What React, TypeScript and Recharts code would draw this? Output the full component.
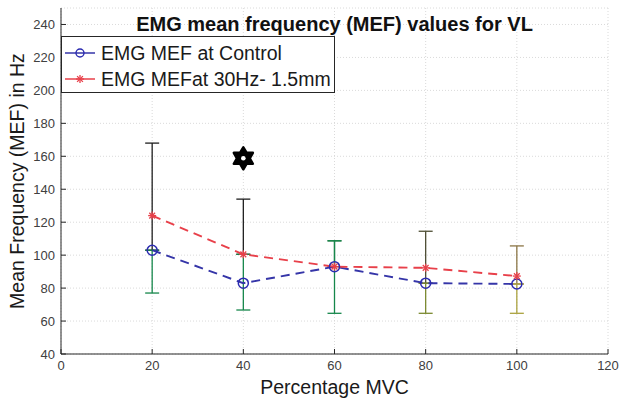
import { ComposedChart, Line, Scatter, ErrorBar, XAxis, YAxis, CartesianGrid, Legend } from 'recharts';

// values
const mvcLevels = [20, 40, 60, 80, 100];
const controlMef = [103, 83, 93, 83, 82.5];
const stimMef = [124, 100.5, 93, 92.3, 87.3];
const controlErrLow = [26, 16.3, 28.3, 18.3, 17.8];
const controlErrHigh = [0, 17.5, 15.7, 0, 0];
const stimErrLow = [21, 0, 0, 9.3, 4.8];
const stimErrHigh = [44, 33.5, 15.7, 22.2, 18.3];
const significance = [{ x: 40, y: 158.8 }];

const xTicks = [0, 20, 40, 60, 80, 100, 120];
const yTicks = [40, 60, 80, 100, 120, 140, 160, 180, 200, 220, 240];

const controlName = 'EMG MEF at Control';
const stimName = 'EMG MEFat 30Hz- 1.5mm';

const chartData = mvcLevels.map((x, i) => ({ x, control: controlMef[i], stim: stimMef[i] }));

const stimBarColors = ['#1f1f1f', '#1f1f1f', '#1d6e3c', '#4e4e34', '#8c7646'];
const controlBarColors = ['#16874b', '#16874b', '#16874b', '#7b8a30', '#aaa23e'];

const FONT = '"Liberation Sans", Arial, Helvetica, sans-serif';
const AXIS = '#262626';
const BLUE = '#2b2bb0';
const RED = '#e8404a';

const Asterisk = (props: any) => {
  const { cx, cy } = props;
  if (cx == null || cy == null) return <g />;
  const s = 4;
  const d = 2.9;
  return (
    <g stroke={RED} strokeWidth={1.3}>
      <line x1={cx - s} y1={cy} x2={cx + s} y2={cy} />
      <line x1={cx} y1={cy - s} x2={cx} y2={cy + s} />
      <line x1={cx - d} y1={cy - d} x2={cx + d} y2={cy + d} />
      <line x1={cx - d} y1={cy + d} x2={cx + d} y2={cy - d} />
    </g>
  );
};

const Hexagram = (props: any) => {
  const { cx, cy } = props;
  const R = 11;
  const r = 6.4;
  const pts = [];
  for (let k = 0; k < 12; k++) {
    const a = ((-90 + k * 30) * Math.PI) / 180;
    const rad = k % 2 === 0 ? R : r;
    pts.push(`${cx + rad * Math.cos(a)},${cy + rad * Math.sin(a)}`);
  }
  return (
    <g>
      <polygon points={pts.join(' ')} fill="#000" stroke="#000" strokeWidth={2.5} strokeLinejoin="round" />
      <circle cx={cx} cy={cy} r={2.3} fill="#fff" />
    </g>
  );
};

const NoShape = () => <g />;

const LegendBox = (props: any) => {
  const items = (props.payload || []).filter((p: any) => p.value === controlName || p.value === stimName);
  return (
    <div
      style={{
        position: 'relative',
        width: 272,
        height: 55,
        border: `1px solid ${AXIS}`,
        background: '#fff',
        fontFamily: FONT,
        fontSize: 19.5,
        color: '#1a1a1a',
      }}
    >
      {items.map((p: any, i: number) => (
        <div key={p.value} style={{ position: 'absolute', left: 3, top: 5 + i * 26, height: 22, display: 'flex', alignItems: 'center' }}>
          <svg width={30} height={12} style={{ marginRight: 6 }}>
            <line x1={0} y1={6} x2={30} y2={6} stroke={p.color} strokeWidth={1.5} />
            {p.value === controlName ? (
              <circle cx={15} cy={6} r={4} fill="none" stroke={BLUE} strokeWidth={1.4} />
            ) : (
              <Asterisk cx={15} cy={6} />
            )}
          </svg>
          <span style={{ whiteSpace: 'nowrap' }}>{p.value}</span>
        </div>
      ))}
    </div>
  );
};

const tickStyle = { fontSize: 13, fill: '#404040', fontFamily: FONT };

const App = () => {
  return (
    <div style={{ position: 'absolute', left: 0, top: 0, width: 625, height: 406, background: '#fff' }}>
      <ComposedChart width={625} height={406} data={chartData} margin={{ top: 8, right: 17, left: 0, bottom: 0 }}>
        <CartesianGrid stroke="#dadada" strokeDasharray="1 2" />
        <XAxis
          dataKey="x"
          type="number"
          domain={[0, 120]}
          ticks={xTicks}
          interval={0}
          height={52}
          stroke={AXIS}
          tickSize={-5}
          tickMargin={12}
          tick={tickStyle}
          label={{ value: 'Percentage MVC', position: 'insideBottom', offset: 12, style: { fontSize: 19.5, fill: '#1a1a1a', fontFamily: FONT } }}
        />
        <XAxis
          xAxisId="top"
          orientation="top"
          type="number"
          domain={[0, 120]}
          ticks={xTicks}
          interval={0}
          height={0}
          stroke={AXIS}
          tickSize={-5}
          tickFormatter={() => ''}
        />
        <YAxis
          type="number"
          domain={[40, 250]}
          ticks={yTicks}
          interval={0}
          width={61}
          stroke={AXIS}
          tickSize={-5}
          tickMargin={11}
          tick={tickStyle}
          label={{
            value: 'Mean Frequency (MEF) in Hz',
            angle: -90,
            position: 'insideLeft',
            dx: 12,
            style: { textAnchor: 'middle', fontSize: 19.5, fill: '#1a1a1a', fontFamily: FONT },
          }}
        />
        <YAxis
          yAxisId="right"
          orientation="right"
          type="number"
          domain={[40, 250]}
          ticks={yTicks}
          interval={0}
          width={0}
          stroke={AXIS}
          tickSize={-5}
          tickFormatter={() => ''}
        />
        {mvcLevels.map((x, i) => (
          <Scatter
            key={`s${x}`}
            name={`stimErr${x}`}
            data={[{ x, y: stimMef[i], err: [stimErrLow[i], stimErrHigh[i]] }]}
            dataKey="y"
            shape={NoShape}
            legendType="none"
            isAnimationActive={false}
          >
            <ErrorBar dataKey="err" direction="y" width={7} stroke={stimBarColors[i]} strokeWidth={1.3} />
          </Scatter>
        ))}
        {mvcLevels.map((x, i) => (
          <Scatter
            key={`c${x}`}
            name={`controlErr${x}`}
            data={[{ x, y: controlMef[i], err: [controlErrLow[i], controlErrHigh[i]] }]}
            dataKey="y"
            shape={NoShape}
            legendType="none"
            isAnimationActive={false}
          >
            <ErrorBar dataKey="err" direction="y" width={7} stroke={controlBarColors[i]} strokeWidth={1.3} />
          </Scatter>
        ))}
        <Line
          name={controlName}
          dataKey="control"
          stroke="#3535a8"
          strokeWidth={1.9}
          strokeDasharray="9 6"
          dot={{ r: 5, stroke: BLUE, strokeWidth: 1.5, fill: 'none', strokeDasharray: '' }}
          isAnimationActive={false}
        />
        <Line
          name={stimName}
          dataKey="stim"
          stroke={RED}
          strokeWidth={1.9}
          strokeDasharray="9 6"
          dot={<Asterisk />}
          isAnimationActive={false}
        />
        <Scatter name="significance" data={significance} dataKey="y" shape={Hexagram} legendType="none" isAnimationActive={false} />
        <Legend
          layout="vertical"
          align="center"
          verticalAlign="middle"
          content={<LegendBox />}
          wrapperStyle={{ left: 61, top: 36, width: 274, height: 57 }}
        />
      </ComposedChart>
      <div
        style={{
          position: 'absolute',
          left: 61,
          width: 547,
          top: 13,
          textAlign: 'center',
          fontFamily: FONT,
          fontWeight: 'bold',
          fontSize: 20,
          lineHeight: '22px',
          color: '#111',
        }}
      >
        EMG mean frequency (MEF) values for VL
      </div>
    </div>
  );
};

export default App;
